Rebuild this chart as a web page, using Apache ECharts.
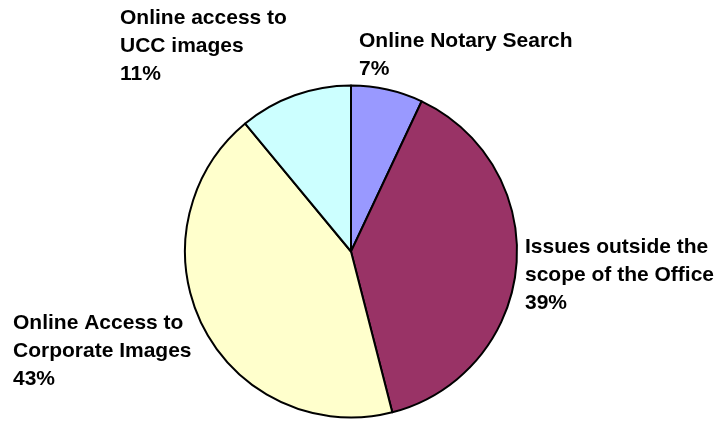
<!DOCTYPE html>
<html>
<head>
<meta charset="utf-8">
<script src="https://cdn.jsdelivr.net/npm/echarts@6/dist/echarts.min.js"></script>
<style>
  html, body { margin: 0; padding: 0; background: #fff; }
  #pieChart { width: 717px; height: 421px; }
</style>
</head>
<body>
<div id="pieChart"></div>
<script>
// categories and shares (%)
const categories = [
  "Online Notary Search",
  "Issues outside the\nscope of the Office",
  "Online Access to\nCorporate Images",
  "Online access to\nUCC images",
];
const shares = [7, 39, 43, 11];
const colors = ["#9999FF", "#993366", "#FFFFCC", "#CCFFFF"];

// label anchors (left / top of each text block)
const labelPos = [
  [359, 27],
  [525, 233],
  [13, 309],
  [120, 4],
];

let myChart = echarts.init(document.getElementById("pieChart"));

let option = {
  animation: false,
  series: [
    {
      type: "pie",
      center: [351, 251.5],
      radius: 166,
      startAngle: 90,
      clockwise: true,
      itemStyle: {
        borderColor: "#000",
        borderWidth: 2,
      },
      label: {
        show: true,
        formatter: "{b}\n{c}%",
        fontFamily: "Liberation Sans, Arial, sans-serif",
        fontWeight: "bold",
        fontSize: 21,
        lineHeight: 28,
        color: "#000",
        align: "left",
        overflow: "none",
      },
      labelLine: { show: false },
      labelLayout: function (params) {
        let p = labelPos[params.dataIndex];
        return {
          x: p[0],
          y: p[1],
          align: "left",
          verticalAlign: "top",
        };
      },
      emphasis: { disabled: true },
      data: categories.map((name, i) => ({
        name: name,
        value: shares[i],
        itemStyle: { color: colors[i] },
      })),
    },
  ],
};

myChart.setOption(option);
</script>
</body>
</html>
